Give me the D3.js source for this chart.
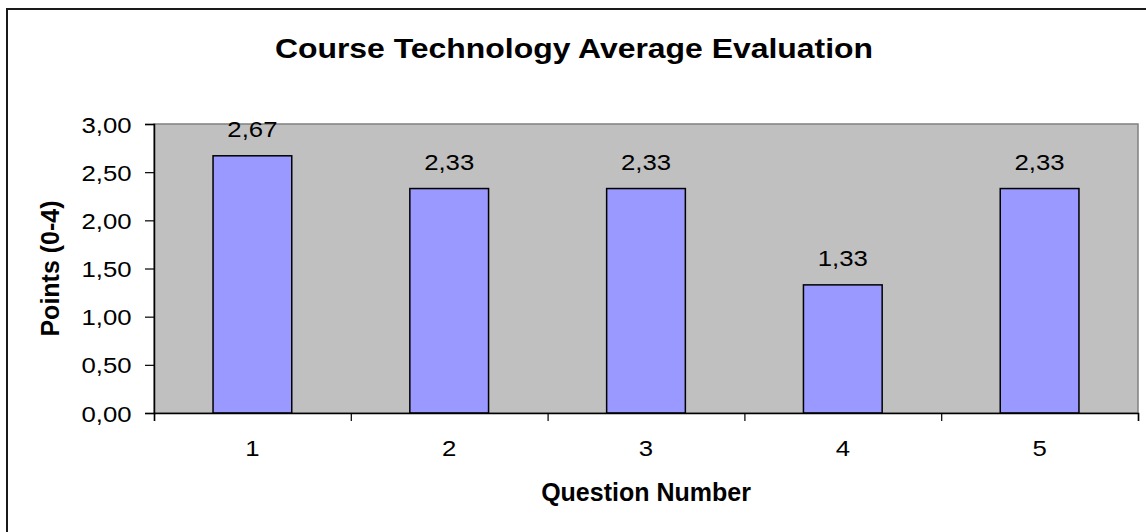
<!DOCTYPE html>
<html>
<head>
<meta charset="utf-8">
<script src="https://cdn.jsdelivr.net/npm/d3@7"></script>
<style>
  body { margin: 0; background: #fff; }
  svg { display: block; font-family: Arial, "Liberation Sans", sans-serif; }
</style>
</head>
<body>
<div id="chart"></div>
<script>
// data
var questions = ["1", "2", "3", "4", "5"];
var points = [2.67, 2.33, 2.33, 1.33, 2.33];
var yTicks = [0, 0.5, 1, 1.5, 2, 2.5, 3];

var W = 1146, H = 532;
var plot = {left: 154, top: 124, right: 1138, bottom: 413};
var stretch = 1.12; // text in the picture looks a bit wider than tall

var fmt = function(v) { return d3.format(".2f")(v).replace(".", ","); };

var svg = d3.select("#chart").append("svg")
    .attr("width", W)
    .attr("height", H);

// outer chart border
svg.append("rect")
    .attr("x", 7).attr("y", 9)
    .attr("width", W + 10).attr("height", H + 10)
    .style("fill", "none")
    .style("stroke", "#1a1a1a")
    .style("stroke-width", 2);

// scales
var x = d3.scaleBand()
    .domain(questions)
    .range([plot.left, plot.right])
    .paddingInner(0.6)
    .paddingOuter(0.3);
var xEdge = d3.scaleLinear()
    .domain([0, questions.length])
    .range([plot.left, plot.right]);
var y = d3.scaleLinear()
    .domain([0, 3])
    .range([plot.bottom, plot.top]);

// plot area
svg.append("rect")
    .attr("x", plot.left).attr("y", plot.top)
    .attr("width", plot.right - plot.left)
    .attr("height", plot.bottom - plot.top)
    .style("fill", "#c0c0c0")
    .style("stroke", "#808080")
    .style("stroke-width", 1.5);

// bars
svg.selectAll(".bar")
    .data(points)
    .enter().append("rect")
    .attr("class", "bar")
    .attr("x", function(d, i) { return x(questions[i]); })
    .attr("y", function(d) { return y(d); })
    .attr("width", x.bandwidth())
    .attr("height", function(d) { return y(0) - y(d); })
    .style("fill", "#9999ff")
    .style("stroke", "#000")
    .style("stroke-width", 1.5);

// value labels
svg.selectAll(".val")
    .data(points)
    .enter().append("text")
    .attr("class", "val")
    .attr("transform", function(d, i) {
      return "translate(" + (x(questions[i]) + x.bandwidth() / 2) + "," + (y(d) - 18.5) + ") scale(" + stretch + ",1)";
    })
    .attr("text-anchor", "middle")
    .style("font-size", "23px")
    .text(function(d) { return fmt(d); });

// y axis
var yAxis = svg.append("g")
    .attr("transform", "translate(" + plot.left + ",0)")
    .call(d3.axisLeft(y).tickValues(yTicks).tickFormat(fmt).tickSize(9).tickPadding(0));
yAxis.select(".domain").style("stroke", "#000").style("stroke-width", 1.5);
yAxis.selectAll(".tick line").style("stroke", "#000").style("stroke-width", 1.2);
yAxis.selectAll(".tick text")
    .attr("x", -20)
    .attr("dy", "0.35em")
    .attr("transform", "scale(" + stretch + ",1)")
    .style("font-size", "23px")
    .style("fill", "#000");

// x axis: boundary ticks
var xAxis = svg.append("g")
    .attr("transform", "translate(0," + plot.bottom + ")")
    .call(d3.axisBottom(xEdge).ticks(questions.length).tickFormat("").tickSize(8));
xAxis.select(".domain").style("stroke", "#000").style("stroke-width", 1.5);
xAxis.selectAll(".tick line").style("stroke", "#000").style("stroke-width", 1.2);

// x axis: category labels
var xLabels = svg.append("g")
    .attr("transform", "translate(0," + plot.bottom + ")")
    .call(d3.axisBottom(x).tickSize(0).tickPadding(0));
xLabels.select(".domain").remove();
xLabels.selectAll(".tick text")
    .attr("y", 43)
    .attr("dy", 0)
    .attr("transform", "scale(" + stretch + ",1)")
    .style("font-size", "23px")
    .style("fill", "#000");

// title
svg.append("text")
    .attr("transform", "translate(574,58) scale(1.14,1)")
    .attr("text-anchor", "middle")
    .style("font-size", "28px")
    .style("font-weight", "bold")
    .text("Course Technology Average Evaluation");

// axis titles
svg.append("text")
    .attr("transform", "translate(" + ((plot.left + plot.right) / 2) + ",501)")
    .attr("text-anchor", "middle")
    .style("font-size", "25px")
    .style("font-weight", "bold")
    .text("Question Number");

svg.append("text")
    .attr("transform", "translate(59," + ((plot.top + plot.bottom) / 2) + ") rotate(-90)")
    .attr("text-anchor", "middle")
    .style("font-size", "25px")
    .style("font-weight", "bold")
    .text("Points (0-4)");
</script>
</body>
</html>
